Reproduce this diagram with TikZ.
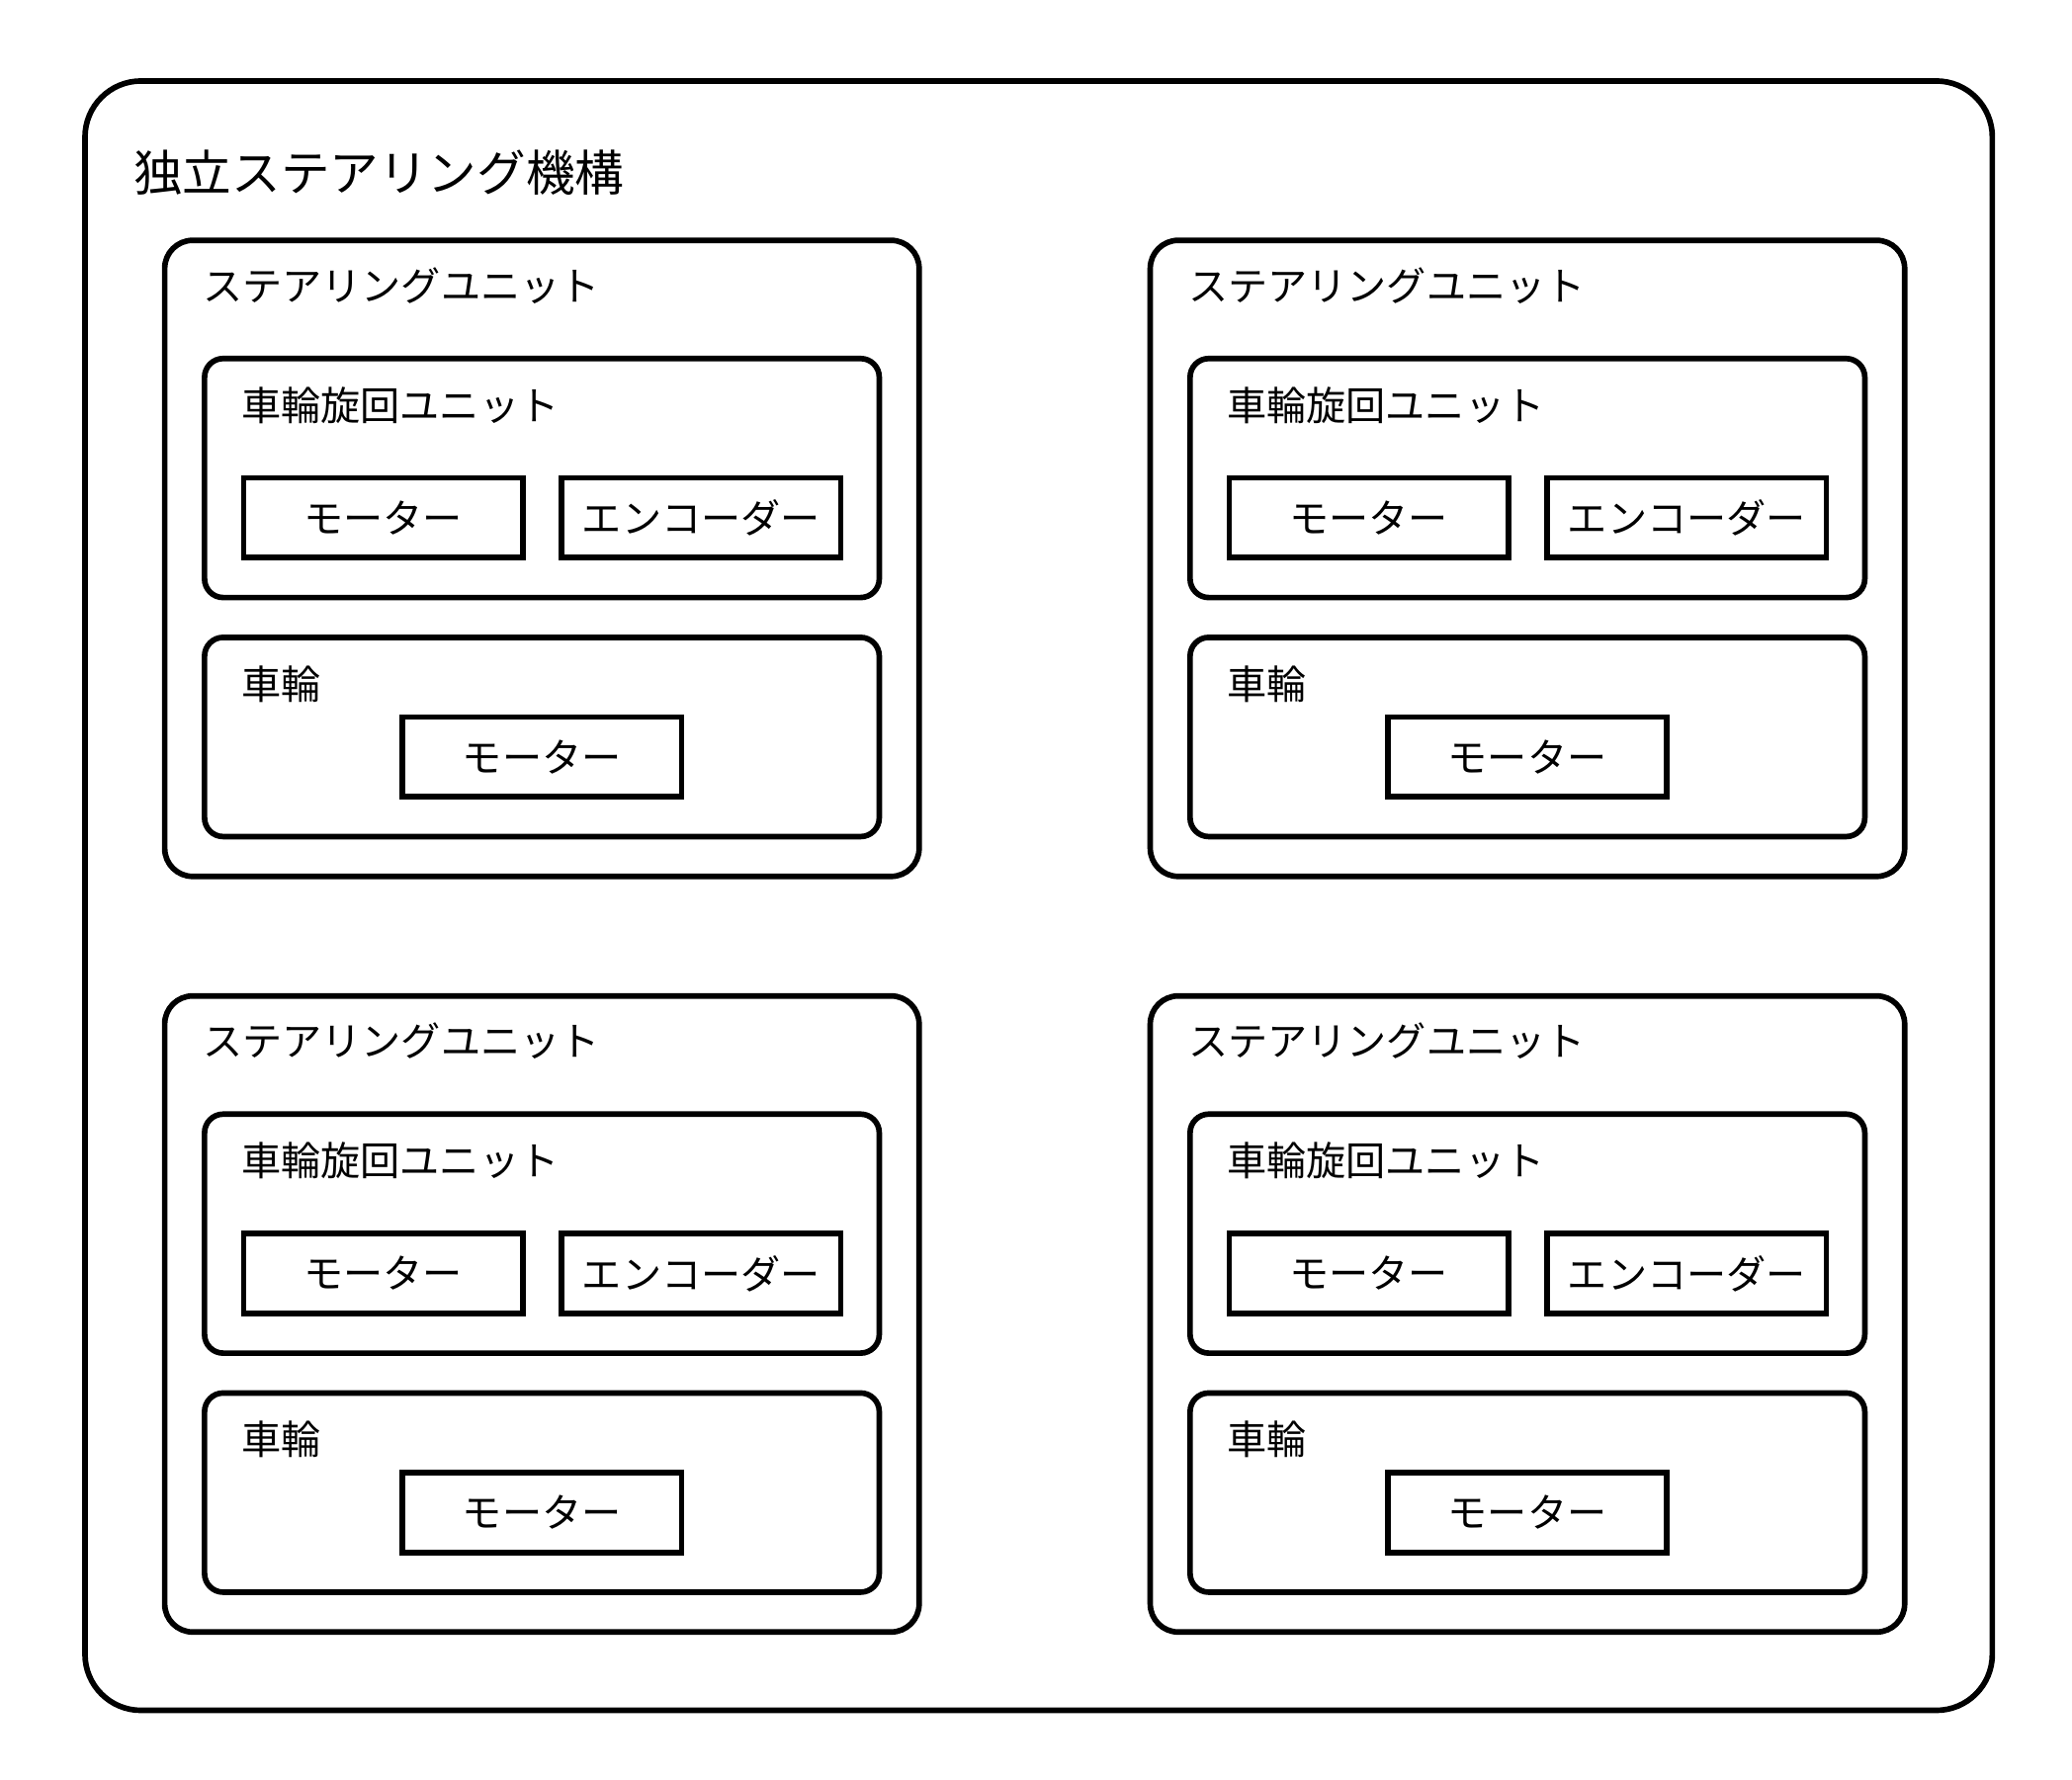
\documentclass[tikz,border=0pt]{standalone}
\usepackage{fontspec}
\setmainfont{Noto Sans CJK JP}
\tikzset{
  frame/.style={draw, line width=1.2pt, rounded corners=6pt},
  part/.style={draw, line width=1.2pt, minimum width=2.1cm, minimum height=0.6cm, inner sep=0pt, font=\fontsize{8.5pt}{10pt}\selectfont},
  caption/.style={anchor=west, inner sep=0pt, font=\fontsize{8.5pt}{10pt}\selectfont}
}
\begin{document}
\begin{tikzpicture}[x=0.01cm, y=-0.01cm]
  \useasboundingbox (0,0) rectangle (1560,1340);
  % outer mechanism
  \draw[line width=1.2pt, rounded corners=12pt] (64,61) rectangle (1500,1288);
  \node[caption, font=\fontsize{10.5pt}{12pt}\selectfont] (title) at (100,130) {独立ステアリング機構};
  % four steering units
  \foreach \dx/\dy/\n in {0/0/a, 742/0/b, 0/569/c, 742/569/d} {
    \begin{scope}[shift={(\dx,\dy)}]
      \draw[frame] (124,181) rectangle (692,660);
      \node[caption] (unit\n) at (152,215) {ステアリングユニット};
      \draw[frame, rounded corners=4pt] (154,270) rectangle (662,450);
      \node[caption] (turn\n) at (181,305) {車輪旋回ユニット};
      \node[part] (tmotor\n) at (288.5,390) {モーター};
      \node[part] (enc\n) at (528,390) {エンコーダー};
      \draw[frame, rounded corners=4pt] (154,480) rectangle (662,630);
      \node[caption] (wheel\n) at (181,515) {車輪};
      \node[part] (wmotor\n) at (408,570) {モーター};
    \end{scope}
  }
\end{tikzpicture}
\end{document}
